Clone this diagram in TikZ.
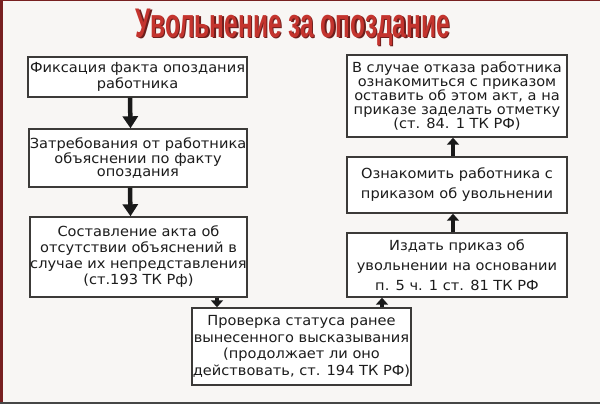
\documentclass[tikz,border=0pt]{standalone}
\usepackage{fontspec}
\usetikzlibrary{arrows.meta}
\setmainfont{DejaVu Sans}
\newfontfamily\boxfont[FakeStretch=1.05]{DejaVu Sans}
\newfontfamily\titlefont{Liberation Sans}
\definecolor{bgcol}{RGB}{248,246,244}
\definecolor{boxline}{RGB}{60,58,56}
\definecolor{textcol}{RGB}{28,28,28}
\definecolor{titlered}{RGB}{196,52,46}
\definecolor{titleshadow}{RGB}{110,30,28}
\definecolor{edgered}{RGB}{120,32,32}
\definecolor{edgegray}{RGB}{70,70,70}
\begin{document}
\begin{tikzpicture}[x=1pt,y=-1pt,
  box/.style={draw=boxline, line width=1.4pt, fill=white, inner sep=0pt,
    align=center, text=textcol},
  arr/.style={draw=black!90, line width=4.5pt,
    -{Triangle[width=15pt,length=12pt]}},
  smallarr/.style={draw=black!90, line width=4.5pt,
    -{Triangle[width=12pt,length=7pt]}}]
\fill[bgcol] (0,0) rectangle (600,404);
\useasboundingbox (0,0) rectangle (600,404);
\fill[edgered] (0,0) rectangle (2.5,404);
\fill[edgered] (0,0) rectangle (600,1.5);
\fill[edgegray] (0,401.5) rectangle (600,404);

% title
\node[text=titleshadow] (titlesh) at (294.5,28.5)
  {\scalebox{0.68}[1.15]{\titlefont\bfseries\fontsize{36}{36}\selectfont Увольнение за опоздание}};
\node[text=titlered] (title) at (293,27)
  {\scalebox{0.68}[1.15]{\titlefont\bfseries\fontsize{36}{36}\selectfont Увольнение за опоздание}};

% left column
\node[box, minimum width=219pt, minimum height=40pt,
  font=\boxfont\fontsize{13.9}{16}\selectfont] (b1) at (137.5,77)
  {Фиксация факта опоздания\\работника};
\node[box, minimum width=218pt, minimum height=58pt,
  font=\boxfont\fontsize{13.9}{12.8}\selectfont] (b2) at (138,158)
  {Затребования от работника\\объяснении по факту\\опоздания};
\node[box, minimum width=217pt, minimum height=80pt,
  font=\boxfont\fontsize{13.9}{16}\selectfont] (b3) at (138.5,257)
  {Составление акта об\\отсутствии объяснений в\\случае их непредставления\\(ст.193 ТК Рф)};

% bottom
\node[box, minimum width=219pt, minimum height=77pt,
  font=\boxfont\fontsize{13.9}{16.5}\selectfont] (b4) at (301.5,346.5)
  {Проверка статуса ранее\\вынесенного высказывания\\(продолжает ли оно\\действовать, ст. 194 ТК РФ)};

% right column
\node[box, minimum width=220pt, minimum height=64pt,
  font=\boxfont\fontsize{13.9}{20}\selectfont] (r3) at (457,265)
  {Издать приказ об\\увольнении на основании\\п. 5 ч. 1 ст. 81 ТК РФ};
\node[box, minimum width=220pt, minimum height=56pt,
  font=\boxfont\fontsize{13.9}{20}\selectfont] (r2) at (457,185)
  {Ознакомить работника с\\приказом об увольнении};
\node[box, minimum width=220pt, minimum height=82pt,
  font=\boxfont\fontsize{13.9}{14}\selectfont] (r1) at (457,96)
  {В случае отказа работника\\ознакомиться с приказом\\оставить об этом акт, а на\\приказе заделать отметку\\(ст. 84. 1 ТК РФ)};

% arrows
\draw[arr] ([xshift=-7.5pt]b1.south) -- ([xshift=-7.5pt]b2.north);
\draw[arr] ([xshift=-8pt]b2.south) -- ([xshift=-8pt]b3.north);
\draw[smallarr] (b3.south -| 217,0) -- (b4.north -| 217,0);
\draw[smallarr] (b4.north -| 382,0) -- (r3.south -| 382,0);
\draw[smallarr] ([xshift=-4pt]r3.north) -- ([xshift=-4pt]r2.south);
\draw[smallarr] ([xshift=-4pt]r2.north) -- ([xshift=-4pt]r1.south);
\end{tikzpicture}
\end{document}
